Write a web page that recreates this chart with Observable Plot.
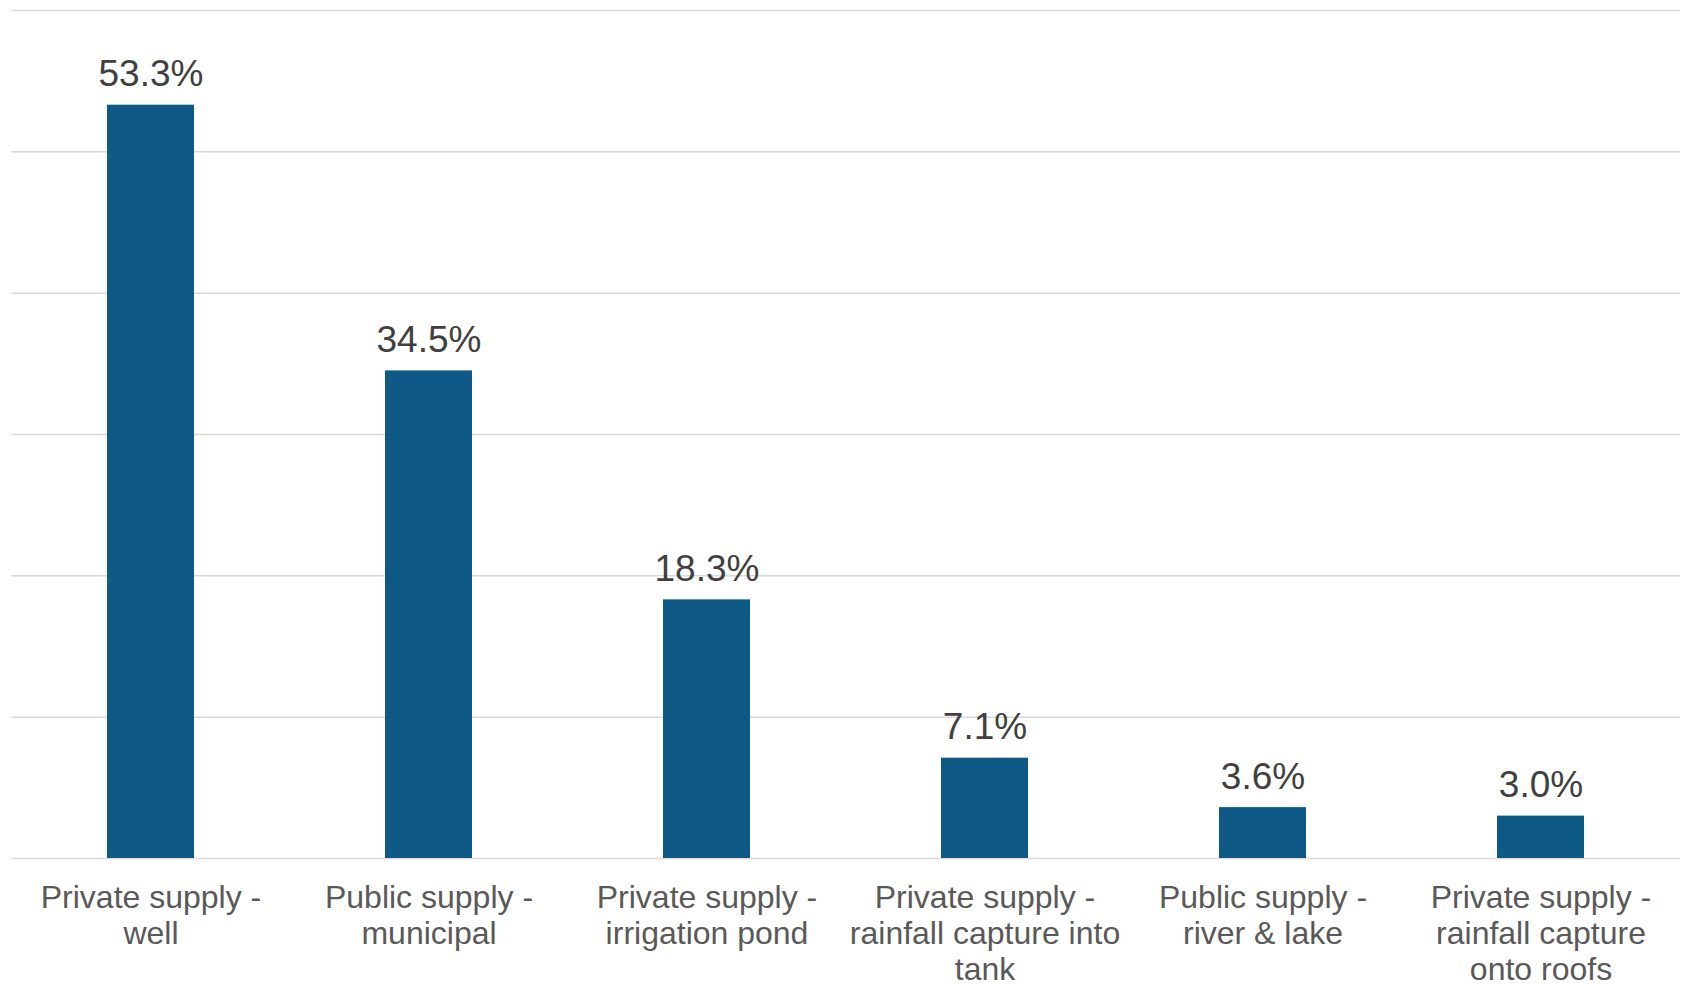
<!DOCTYPE html>
<html>
<head>
<meta charset="utf-8">
<script src="https://cdn.jsdelivr.net/npm/d3@7"></script>
<script src="https://cdn.jsdelivr.net/npm/@observablehq/plot@0.6"></script>
<style>
  html, body { margin: 0; padding: 0; background: #ffffff; }
  #chart { width: 1685px; height: 985px; }
</style>
</head>
<body>
<div id="chart"></div>
<script>
const categories = [
  "Private supply - well",
  "Public supply - municipal",
  "Private supply - irrigation pond",
  "Private supply - rainfall capture into tank",
  "Public supply - river & lake",
  "Private supply - rainfall capture onto roofs"
];
const tickLabels = [
  "Private supply -\nwell",
  "Public supply -\nmunicipal",
  "Private supply -\nirrigation pond",
  "Private supply -\nrainfall capture into\ntank",
  "Public supply -\nriver & lake",
  "Private supply -\nrainfall capture\nonto roofs"
];
const values = [53.3, 34.5, 18.3, 7.1, 3.6, 3.0];
const gridTicks = [0, 10, 20, 30, 40, 50, 60];

const data = categories.map((c, i) => ({category: c, value: values[i]}));
const labelOf = new Map(categories.map((c, i) => [c, tickLabels[i]]));

const chart = Plot.plot({
  width: 1685,
  height: 985,
  marginLeft: 11,
  marginRight: 5,
  marginTop: 10,
  marginBottom: 127,
  style: {fontFamily: "'Liberation Sans', Arial, sans-serif", background: "#ffffff"},
  x: {domain: categories, paddingInner: 0.687, paddingOuter: 0.3435, label: null, axis: null},
  y: {domain: [0, 60], label: null, axis: null},
  marks: [
    Plot.gridY(gridTicks, {stroke: "#d9d9d9", strokeOpacity: 1, strokeWidth: 1.5}),
    Plot.barY(data, {x: "category", y: "value", fill: "#0e5986"}),
    Plot.text(data, {
      x: "category", y: "value",
      text: d => d.value.toFixed(1) + "%",
      lineAnchor: "bottom", dy: -19,
      fontSize: 37, fill: "#404040"
    }),
    Plot.axisX({
      tickSize: 0, tickPadding: 24,
      tickFormat: d => labelOf.get(d),
      fontSize: 32, lineHeight: 1.125,
      fill: "#595959", label: null
    })
  ]
});
document.getElementById("chart").appendChild(chart);
</script>
</body>
</html>
